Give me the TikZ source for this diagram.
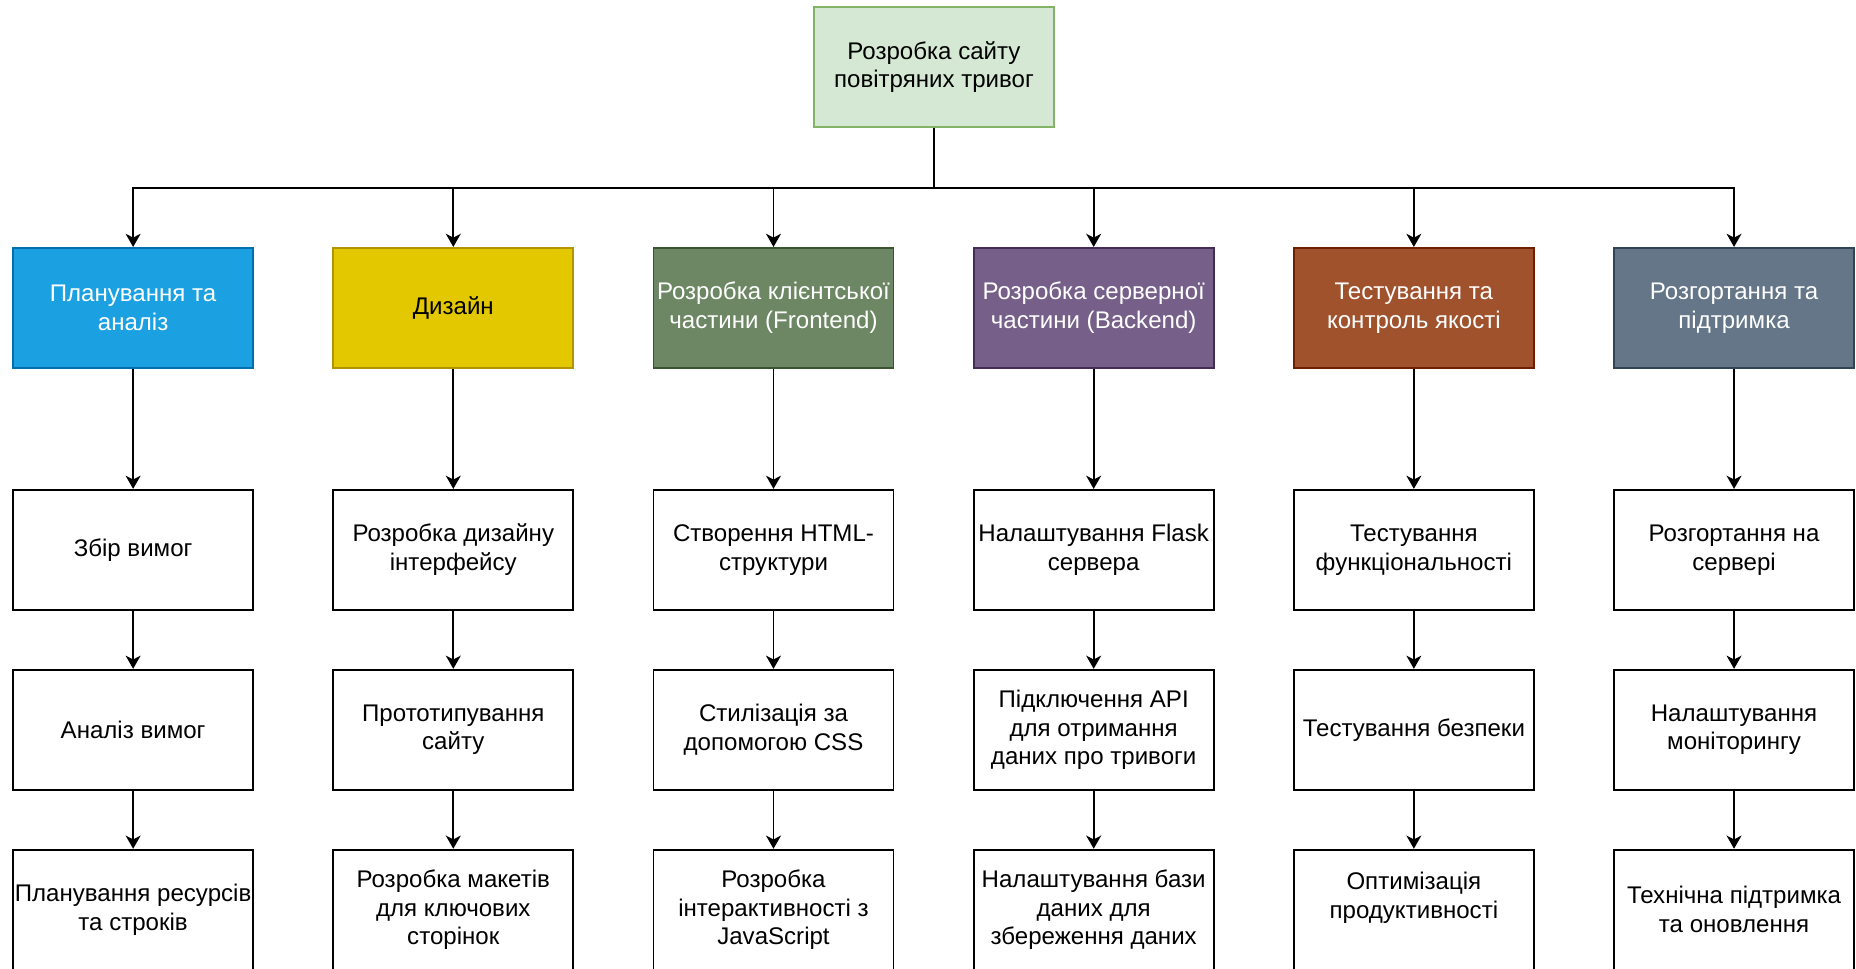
\documentclass[tikz,border=0pt]{standalone}
\usepackage{fontspec}
\setmainfont{Liberation Sans}
\usepackage{xcolor}
\usetikzlibrary{arrows.meta, positioning, calc}

\definecolor{rootfill}{HTML}{D5E8D4}
\definecolor{rootline}{HTML}{82B366}
\definecolor{planfill}{HTML}{1BA1E2}
\definecolor{planline}{HTML}{006EAF}
\definecolor{designfill}{HTML}{E3C800}
\definecolor{designline}{HTML}{B09500}
\definecolor{frontfill}{HTML}{6D8764}
\definecolor{frontline}{HTML}{3A5431}
\definecolor{backfill}{HTML}{76608A}
\definecolor{backline}{HTML}{432D57}
\definecolor{qafill}{HTML}{A0522D}
\definecolor{qaline}{HTML}{6D1F00}
\definecolor{deployfill}{HTML}{647687}
\definecolor{deployline}{HTML}{314354}

\begin{document}
\begin{tikzpicture}[
    % Estilos globales
    node distance=1.16cm and 1.565cm,
    >={Stealth[length=7.5pt, width=8.5pt, inset=2.2pt]},
    % Estilo base de las cajas
    box/.style = {
        rectangle,
        draw=black,
        fill=white,
        line width=1.1pt,
        align=center,
        minimum width=4.8cm,
        minimum height=2.4cm,
        inner sep=1pt,
        font=\fontsize{13.7pt}{16.4pt}\selectfont
    },
    % Nodo raiz (verde)
    root/.style = {box, fill=rootfill, draw=rootline},
    % Fases (colores, texto blanco)
    phase/.style = {box, text=white},
    % Tareas (blanco)
    task/.style = {box},
    % Estilo de las lineas
    connection/.style = {draw, ->, line width=1.1pt, black}
]

    % --- MARGENES ---
    \useasboundingbox (-18.68,1.34) rectangle (18.44,-18.04);

    % --- NODOS ---

    % Nodo raiz
    \node [root] (root) at (0,0) {Розробка сайту\\повітряних тривог};
    \coordinate [below=1.2cm of root] (bus);

    % Fases: primero la del centro, luego a los lados
    \node [phase, fill=frontfill, draw=frontline, below=2.38cm of root, xshift=-3.21cm] (front) {Розробка клієнтської\\частини (Frontend)};
    \node [phase, fill=designfill, draw=designline, text=black, left=of front] (design) {Дизайн};
    \node [phase, fill=planfill, draw=planline, left=of design] (plan) {Планування та\\аналіз};
    \node [phase, fill=backfill, draw=backline, right=of front] (back) {Розробка серверної\\частини (Backend)};
    \node [phase, fill=qafill, draw=qaline, right=of back] (qa) {Тестування та\\контроль якості};
    \node [phase, fill=deployfill, draw=deployline, right=of qa] (deploy) {Розгортання та\\підтримка};

    % Columna 1: planificacion
    \node [task, below=2.4cm of plan] (plan1) {Збір вимог};
    \node [task, below=of plan1] (plan2) {Аналіз вимог};
    \node [task, below=of plan2] (plan3) {Планування ресурсів\\та строків};

    % Columna 2: diseno
    \node [task, below=2.4cm of design] (design1) {Розробка дизайну\\інтерфейсу};
    \node [task, below=of design1] (design2) {Прототипування\\сайту};
    \node [task, below=of design2] (design3) {Розробка макетів\\для ключових\\сторінок};

    % Columna 3: frontend
    \node [task, below=2.4cm of front] (front1) {Створення HTML-\\структури};
    \node [task, below=of front1] (front2) {Стилізація за\\допомогою CSS};
    \node [task, below=of front2] (front3) {Розробка\\інтерактивності з\\JavaScript};

    % Columna 4: backend
    \node [task, below=2.4cm of back] (back1) {Налаштування Flask\\сервера};
    \node [task, below=of back1] (back2) {Підключення API\\для отримання\\даних про тривоги};
    \node [task, below=of back2] (back3) {Налаштування бази\\даних для\\збереження даних};

    % Columna 5: pruebas
    \node [task, below=2.4cm of qa] (qa1) {Тестування\\функціональності};
    \node [task, below=of qa1] (qa2) {Тестування безпеки};
    \node [task, below=of qa2] (qa3) {Оптимізація\\продуктивності\\\mbox{}};

    % Columna 6: despliegue
    \node [task, below=2.4cm of deploy] (deploy1) {Розгортання на\\сервері};
    \node [task, below=of deploy1] (deploy2) {Налаштування\\моніторингу};
    \node [task, below=of deploy2] (deploy3) {Технічна підтримка\\та оновлення};

    % --- CONEXIONES ---

    % Raiz hacia las fases (bus horizontal)
    \draw [connection] (root) |- (bus -| plan) -- (plan);
    \draw [connection] (root) |- (bus -| design) -- (design);
    \draw [connection] (root) |- (bus -| front) -- (front);
    \draw [connection] (root) |- (bus -| back) -- (back);
    \draw [connection] (root) |- (bus -| qa) -- (qa);
    \draw [connection] (root) |- (bus -| deploy) -- (deploy);

    % Cadenas verticales de cada columna
    \draw [connection] (plan) -- (plan1);
    \draw [connection] (plan1) -- (plan2);
    \draw [connection] (plan2) -- (plan3);
    \draw [connection] (design) -- (design1);
    \draw [connection] (design1) -- (design2);
    \draw [connection] (design2) -- (design3);
    \draw [connection] (front) -- (front1);
    \draw [connection] (front1) -- (front2);
    \draw [connection] (front2) -- (front3);
    \draw [connection] (back) -- (back1);
    \draw [connection] (back1) -- (back2);
    \draw [connection] (back2) -- (back3);
    \draw [connection] (qa) -- (qa1);
    \draw [connection] (qa1) -- (qa2);
    \draw [connection] (qa2) -- (qa3);
    \draw [connection] (deploy) -- (deploy1);
    \draw [connection] (deploy1) -- (deploy2);
    \draw [connection] (deploy2) -- (deploy3);

\end{tikzpicture}
\end{document}
